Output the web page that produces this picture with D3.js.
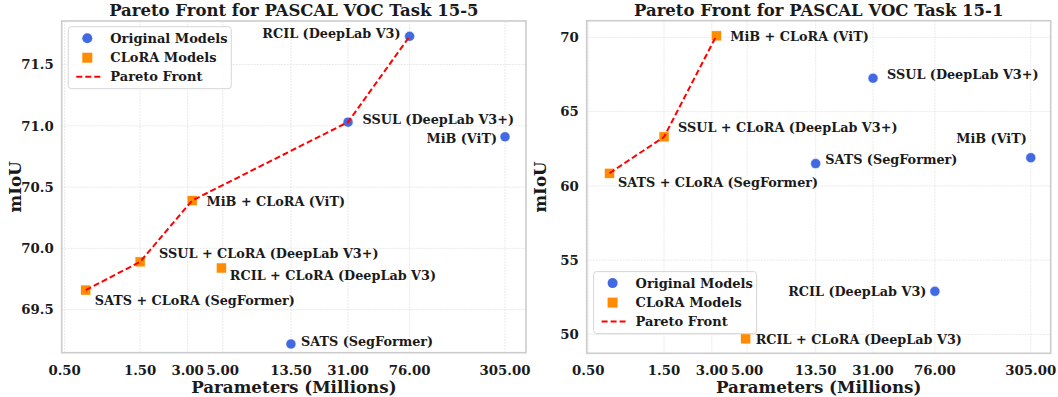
<!DOCTYPE html>
<html>
<head>
<meta charset="utf-8">
<script src="https://cdn.jsdelivr.net/npm/d3@7"></script>
<style>
  body { margin: 0; background: #fff; }
  svg text { font-family: "DejaVu Serif", serif; font-weight: bold; fill: #1a1a1a; }
</style>
</head>
<body>
<div id="chart"></div>
<script>
// model names and parameter counts (millions)
const origNames = ["SATS (SegFormer)", "SSUL (DeepLab V3+)", "RCIL (DeepLab V3)", "MiB (ViT)"];
const origParams = [13.5, 31, 76, 305];
const cloraNames = ["SATS + CLoRA (SegFormer)", "SSUL + CLoRA (DeepLab V3+)", "MiB + CLoRA (ViT)", "RCIL + CLoRA (DeepLab V3)"];
const cloraParams = [0.68, 1.5, 3.2, 4.9];

// mIoU per task
const orig15_5 = [69.22, 71.03, 71.73, 70.91];
const clora15_5 = [69.66, 69.89, 70.39, 69.84];
const orig15_1 = [61.5, 67.25, 52.9, 61.9];
const clora15_1 = [60.85, 63.3, 70.1, 49.7];

// pareto fronts (names in order)
const front15_5 = ["SATS + CLoRA (SegFormer)", "SSUL + CLoRA (DeepLab V3+)", "MiB + CLoRA (ViT)", "SSUL (DeepLab V3+)", "RCIL (DeepLab V3)"];
const front15_1 = ["SATS + CLoRA (SegFormer)", "SSUL + CLoRA (DeepLab V3+)", "MiB + CLoRA (ViT)"];

const xTicks = [0.5, 1.5, 3.0, 5.0, 13.5, 31.0, 76.0, 305.0];
const yTicks15_5 = [69.5, 70.0, 70.5, 71.0, 71.5];
const yTicks15_1 = [50, 55, 60, 65, 70];

const W = 1058, H = 397;
const svg = d3.select("#chart").append("svg").attr("width", W).attr("height", H);

function panel(cfg) {
    let x = d3.scaleLog().domain(cfg.xDom).range([cfg.left, cfg.right]);
    let y = d3.scaleLinear().domain(cfg.yDom).range([cfg.bottom, cfg.top]);
    let g = svg.append("g");

    // grid
    g.selectAll(".gx").data(xTicks).enter().append("line")
        .attr("x1", d => x(d)).attr("x2", d => x(d))
        .attr("y1", cfg.top).attr("y2", cfg.bottom)
        .style("stroke", "#e3e3e3").style("stroke-width", 0.8).style("stroke-dasharray", "2,1");
    g.selectAll(".gy").data(cfg.yTicks).enter().append("line")
        .attr("y1", d => y(d)).attr("y2", d => y(d))
        .attr("x1", cfg.left).attr("x2", cfg.right)
        .style("stroke", "#e3e3e3").style("stroke-width", 0.8).style("stroke-dasharray", "2,1");

    // frame
    g.append("rect")
        .attr("x", cfg.left).attr("y", cfg.top)
        .attr("width", cfg.right - cfg.left).attr("height", cfg.bottom - cfg.top)
        .style("fill", "none").style("stroke", "#cccccc").style("stroke-width", 1.6);

    // tick labels
    g.selectAll(".tx").data(xTicks).enter().append("text")
        .attr("x", d => x(d)).attr("y", cfg.bottom + 22)
        .attr("text-anchor", "middle").style("font-size", "13.3px")
        .text(d => d3.format(".2f")(d));
    g.selectAll(".ty").data(cfg.yTicks).enter().append("text")
        .attr("x", cfg.left - 8).attr("y", d => y(d) + 4.8)
        .attr("text-anchor", "end").style("font-size", "13.3px")
        .text(cfg.yFmt);

    // axis titles
    g.append("text").attr("x", (cfg.left + cfg.right) / 2).attr("y", 393)
        .attr("text-anchor", "middle").style("font-size", "16.7px").text("Parameters (Millions)");
    g.append("text")
        .attr("transform", `translate(${cfg.left - 41},${(cfg.top + cfg.bottom) / 2}) rotate(-90)`)
        .attr("text-anchor", "middle").style("font-size", "16.7px").text("mIoU");
    g.append("text").attr("x", (cfg.left + cfg.right) / 2).attr("y", 15.5)
        .attr("text-anchor", "middle").style("font-size", "16.5px").text(cfg.title);

    let orig = origNames.map((n, i) => ({ name: n, p: origParams[i], v: cfg.orig[i] }));
    let clora = cloraNames.map((n, i) => ({ name: n, p: cloraParams[i], v: cfg.clora[i] }));
    let all = orig.concat(clora);

    g.selectAll(".o").data(orig).enter().append("circle")
        .attr("cx", d => x(d.p)).attr("cy", d => y(d.v)).attr("r", 5)
        .style("fill", "#4169E1").style("stroke", "#fff").style("stroke-width", 0.5);
    g.selectAll(".c").data(clora).enter().append("rect")
        .attr("x", d => x(d.p) - 5).attr("y", d => y(d.v) - 5)
        .attr("width", 10).attr("height", 10)
        .style("fill", "#FF8C00").style("stroke", "#fff").style("stroke-width", 0.5);

    let front = cfg.front.map(n => all.find(d => d.name == n));
    g.append("path").datum(front)
        .attr("d", d3.line().x(d => x(d.p)).y(d => y(d.v)))
        .style("fill", "none").style("stroke", "#ff0000").style("stroke-width", 2)
        .style("stroke-dasharray", "6,3");

    // point labels
    g.selectAll(".lab").data(all).enter().append("text")
        .attr("x", d => x(d.p) + cfg.off[d.name][0])
        .attr("y", d => y(d.v) + cfg.off[d.name][1] + 4.7)
        .attr("text-anchor", d => cfg.off[d.name][0] < 0 ? "end" : "start")
        .style("font-size", "12.8px")
        .text(d => d.name);

    // legend
    let L = cfg.legend;
    let lg = g.append("g").attr("transform", `translate(${L[0]},${L[1]})`);
    lg.append("rect").attr("width", 163).attr("height", 62).attr("rx", 3)
        .style("fill", "rgba(255,255,255,0.85)").style("stroke", "#d6d6d6").style("stroke-width", 1);
    lg.append("circle").attr("cx", 19).attr("cy", 11.5).attr("r", 5).style("fill", "#4169E1");
    lg.append("rect").attr("x", 14).attr("y", 26).attr("width", 10).attr("height", 10).style("fill", "#FF8C00");
    lg.append("line").attr("x1", 8).attr("x2", 32).attr("y1", 50).attr("y2", 50)
        .style("stroke", "#ff0000").style("stroke-width", 2).style("stroke-dasharray", "6,3");
    ["Original Models", "CLoRA Models", "Pareto Front"].forEach((t, i) => {
        lg.append("text").attr("x", 42).attr("y", 16 + i * 19.2).style("font-size", "13px").text(t);
    });
}

panel({
    title: "Pareto Front for PASCAL VOC Task 15-5",
    left: 61.7, right: 526, top: 21, bottom: 352.7,
    xDom: [0.479, 414], yDom: [69.149, 71.855],
    yTicks: yTicks15_5, yFmt: d3.format(".1f"),
    orig: orig15_5, clora: clora15_5, front: front15_5,
    legend: [68.3, 26.7],
    off: {
        "RCIL (DeepLab V3)": [-9, -3],
        "SSUL (DeepLab V3+)": [14.5, -3],
        "MiB (ViT)": [-8, 1],
        "SATS (SegFormer)": [10, -3],
        "MiB + CLoRA (ViT)": [14.5, 1],
        "SSUL + CLoRA (DeepLab V3+)": [19, -8.5],
        "RCIL + CLoRA (DeepLab V3)": [8.5, 7],
        "SATS + CLoRA (SegFormer)": [9, 10]
    }
});

panel({
    title: "Pareto Front for PASCAL VOC Task 15-1",
    left: 586.7, right: 1050.7, top: 20.7, bottom: 353.3,
    xDom: [0.489, 407], yDom: [48.73, 71.12],
    yTicks: yTicks15_1, yFmt: d3.format("d"),
    orig: orig15_1, clora: clora15_1, front: front15_1,
    legend: [593.6, 271.6],
    off: {
        "RCIL (DeepLab V3)": [-8.5, 0],
        "SSUL (DeepLab V3+)": [14, -4],
        "MiB (ViT)": [-4, -19],
        "SATS (SegFormer)": [9.5, -4],
        "MiB + CLoRA (ViT)": [14, 0],
        "SSUL + CLoRA (DeepLab V3+)": [14, -9.5],
        "RCIL + CLoRA (DeepLab V3)": [10, 0],
        "SATS + CLoRA (SegFormer)": [8.5, 9]
    }
});
</script>
</body>
</html>
